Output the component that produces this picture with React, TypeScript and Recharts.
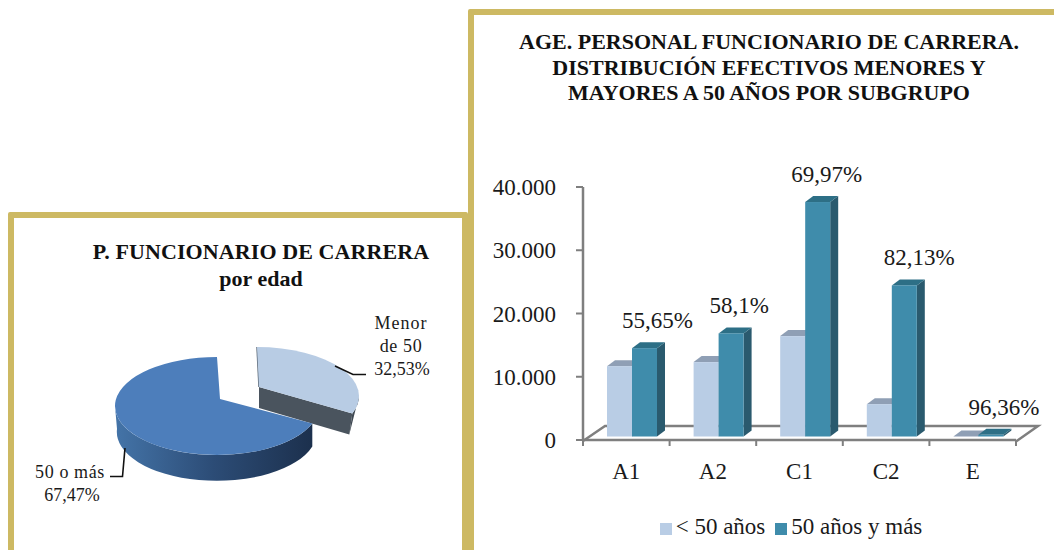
import React from 'react';
import { BarChart, Bar, XAxis, YAxis, Legend, LabelList, PieChart, Pie } from 'recharts';

const FONT = '"Liberation Serif", serif';
const GOLD = '#cdb963';

// pie data
const AGE_GROUPS = ['Menor de 50', '50 o más'];
const AGE_SHARES = [32.53, 67.47];
const AGE_COLORS = ['#b8cce4', '#4d7ebb'];

// bar data
const SUBGROUPS = ['A1', 'A2', 'C1', 'C2', 'E'];
const UNDER_50 = [11120, 11760, 15870, 5110, 10];
const OVER_50 = [13970, 16300, 37070, 23890, 260];
const OVER_50_PCT = ['55,65%', '58,1%', '69,97%', '82,13%', '96,36%'];
const Y_TICKS = [0, 10000, 20000, 30000, 40000];

const pieData = AGE_GROUPS.map((name, i) => ({ name, value: AGE_SHARES[i], fill: AGE_COLORS[i] }));
const barData = SUBGROUPS.map((name, i) => ({ name, under: UNDER_50[i], over: OVER_50[i], pct: OVER_50_PCT[i] }));

// fake 3D settings
const PIE_SQUASH = 0.48;
const PIE_DEPTH = 23;
const BAR_DEPTH_X = 8;
const BAR_DEPTH_Y = 6;

const Pie3DSlice = (props: any) => {
  const { cx, cy, outerRadius, startAngle, endAngle, fill, index } = props;
  const rx = outerRadius;
  const ry = outerRadius * PIE_SQUASH;
  // the small slice is pulled out towards the upper right
  const ax = index === 0 ? cx + 39 : cx;
  const ay = index === 0 ? cy - 12 : cy;
  const ex = index === 0 ? ax - 2 : ax - 3;
  const ey = index === 0 ? ay + 9 : ay + 7;
  const warp = (a: number) => a + 7 * Math.cos((a * Math.PI) / 180);
  const pt = (a: number) => {
    const r = (warp(a) * Math.PI) / 180;
    return [ex + rx * Math.cos(r), ey - ry * Math.sin(r)];
  };
  const [sx, sy] = pt(startAngle);
  const [tx, ty] = pt(endAngle);
  const large = Math.abs(endAngle - startAngle) > 180 ? 1 : 0;
  const top = `M${ax},${ay} L${sx},${sy} A${rx},${ry} 0 ${large} 1 ${tx},${ty} Z`;

  if (index === 0) {
    const [wx, wy] = [ex + rx, ey];
    return (
      <g>
        <path d={`M${ax},${ay} L${tx},${ty} L${tx - 3},${ty + PIE_DEPTH - 2} L${ax},${ay + PIE_DEPTH - 2} Z`} fill="#4a545e" />
        <path d={`M${wx},${wy} A${rx},${ry} 0 0 1 ${tx},${ty} L${tx - 3},${ty + PIE_DEPTH - 2} Z`} fill="#3f4953" />
        <path d={`M${ax},${ay} L${sx},${sy}`} stroke="#5d6a78" strokeWidth={1.5} />
        <path d={top} fill={fill} />
      </g>
    );
  }
  const lx = ex - rx;
  return (
    <g>
      <defs>
        <linearGradient id="pieWall" x1="0" x2="1" y1="0" y2="0">
          <stop offset="0%" stopColor="#4474a8" />
          <stop offset="50%" stopColor="#2c4c76" />
          <stop offset="100%" stopColor="#1c304d" />
        </linearGradient>
      </defs>
      <path
        d={`M${sx},${sy} A${rx},${ry} 0 0 1 ${lx},${ey} L${lx + 2},${ey + PIE_DEPTH} A${rx - 2},${ry} 0 0 0 ${sx},${sy + PIE_DEPTH} Z`}
        fill="url(#pieWall)"
      />
      <path d={top} fill={fill} />
    </g>
  );
};

const PieLabel = (props: any) => {
  const common = { fontFamily: FONT, fontSize: 18, fill: '#1a1a1a', textAnchor: 'middle' as const };
  const pct = `${AGE_SHARES[props.index].toFixed(2).replace('.', ',')}%`;
  if (props.index === 0) {
    return (
      <g>
        <text x={401} y={329} letterSpacing={1} {...common}>Menor</text>
        <text x={401} y={352} letterSpacing={0.6} {...common}>de 50</text>
        <text x={402} y={375} {...common}>{pct}</text>
        <path d="M335,366 L353,374.5 L366,374.5" fill="none" stroke="#111" strokeWidth={1.6} />
      </g>
    );
  }
  return (
    <g>
      <text x={70} y={478} letterSpacing={0.6} {...common}>50 o más</text>
      <text x={72} y={501} {...common}>{pct}</text>
      <path d="M125,448 L122.5,476.5 L110,476.5" fill="none" stroke="#111" strokeWidth={1.6} />
    </g>
  );
};

const Bar3D = (props: any) => {
  const { x, y, width, height, fill, topFill, sideFill } = props;
  // bars stand on the floor, a bit behind the axis line
  const bx = x + 6;
  const by = y - 3.5;
  const h = Math.max(height, 0);
  return (
    <g>
      <path d={`M${bx + width},${by} l${BAR_DEPTH_X},${-BAR_DEPTH_Y} v${h} l${-BAR_DEPTH_X},${BAR_DEPTH_Y} Z`} fill={sideFill} />
      <path d={`M${bx},${by} l${BAR_DEPTH_X},${-BAR_DEPTH_Y} h${width} l${-BAR_DEPTH_X},${BAR_DEPTH_Y} Z`} fill={topFill} />
      <rect x={bx} y={by} width={width} height={h} fill={fill} />
    </g>
  );
};

const LABEL_DX = [13, 8, 9, 15, 13];

const PctLabel = (props: any) => {
  const { x, y, width, index, value } = props;
  return (
    <text
      x={x + 6 + width / 2 + LABEL_DX[index]}
      y={y - 3.5 - 20}
      textAnchor="middle"
      fontFamily={FONT}
      fontSize={23}
      fill="#1a1a1a"
    >
      {value}
    </text>
  );
};

const CategoryTick = (props: any) => {
  const { x, y, payload, index } = props;
  const half = 43.3;
  return (
    <g>
      <line x1={x - half} x2={x - half} y1={y - 8} y2={y - 2} stroke="#7f7f7f" strokeWidth={2} />
      {index === SUBGROUPS.length - 1 && (
        <line x1={x + half} x2={x + half} y1={y - 8} y2={y - 2} stroke="#7f7f7f" strokeWidth={2} />
      )}
      <text x={x} y={y + 31} textAnchor="middle" fontFamily={FONT} fontSize={23} fill="#1a1a1a">
        {payload.value}
      </text>
    </g>
  );
};

const Frame = ({ style }: { style: React.CSSProperties }) => (
  <div style={{ position: 'absolute', boxSizing: 'border-box', borderStyle: 'solid', borderColor: GOLD, borderWidth: 6, borderRadius: 2, ...style }} />
);

const Title = ({ lines, center, top, step, spacing }: any) => (
  <div
    style={{
      position: 'absolute',
      left: center - 300,
      width: 600,
      top,
      textAlign: 'center',
      fontFamily: FONT,
      fontWeight: 700,
      fontSize: 22,
      lineHeight: `${step}px`,
      letterSpacing: spacing,
      color: '#111',
    }}
  >
    {lines.map((l: string) => (
      <div key={l}>{l}</div>
    ))}
  </div>
);

export default function App() {
  return (
    <div style={{ position: 'absolute', left: 0, top: 0, width: 1054, height: 550, overflow: 'hidden', background: '#fff' }}>
      <Frame style={{ left: 8, top: 212, width: 460, height: 360 }} />
      <Frame style={{ left: 468, top: 9, width: 620, height: 560 }} />

      <Title lines={['P. FUNCIONARIO DE CARRERA']} center={261} top={239} step={26} spacing={0.1} />
      <Title lines={['por edad']} center={261} top={266} step={26} spacing={0} />
      <Title
        lines={['AGE. PERSONAL FUNCIONARIO DE CARRERA.', 'DISTRIBUCIÓN EFECTIVOS MENORES Y', 'MAYORES A 50 AÑOS POR SUBGRUPO']}
        center={769}
        top={29}
        step={25.5}
        spacing={0}
      />

      <div style={{ position: 'absolute', left: 0, top: 0 }}>
        <PieChart width={468} height={550} margin={{ top: 0, right: 0, bottom: 0, left: 0 }}>
          <Pie
            data={pieData}
            dataKey="value"
            nameKey="name"
            cx={220}
            cy={399}
            outerRadius={102}
            startAngle={90}
            endAngle={-270}
            stroke="none"
            shape={Pie3DSlice}
            label={PieLabel}
            labelLine={false}
            isAnimationActive={false}
          />
        </PieChart>
      </div>

      <div style={{ position: 'absolute', left: 474, top: 0 }}>
        <BarChart
          width={580}
          height={550}
          data={barData}
          barSize={25}
          barGap={0}
          margin={{ top: 187, right: 38, bottom: 44, left: 17 }}
        >
          {/* floor of the 3D box */}
          <path d="M109,441 L131,426 H564 L542,441.5" fill="none" stroke="#7f7f7f" strokeWidth={2.5} />
          <XAxis
            dataKey="name"
            height={40}
            interval={0}
            tick={<CategoryTick />}
            tickLine={false}
            axisLine={{ stroke: '#7f7f7f', strokeWidth: 2.5 }}
          />
          <YAxis
            width={92}
            domain={[0, 40000]}
            ticks={Y_TICKS}
            tickFormatter={(v: number) => v.toLocaleString('de-DE')}
            tick={{ fontFamily: FONT, fontSize: 23, fill: '#1a1a1a' }}
            tickSize={7}
            tickMargin={20}
            tickLine={{ stroke: '#7f7f7f', strokeWidth: 2 }}
            axisLine={{ stroke: '#7f7f7f', strokeWidth: 2.5 }}
          />
          <Legend
            iconType="square"
            iconSize={12}
            itemSorter={null}
            wrapperStyle={{ fontFamily: FONT, fontSize: 23, color: '#1a1a1a', left: 172, width: 300, bottom: 10 }}
            formatter={(value: string) => <span style={{ color: '#1a1a1a' }}>{value}</span>}
          />
          <Bar
            dataKey="under"
            name="< 50 años"
            fill="#b9cde5"
            shape={<Bar3D topFill="#8f9fb5" sideFill="#8f9fb5" />}
            isAnimationActive={false}
          />
          <Bar
            dataKey="over"
            name="50 años y más"
            fill="#3f8cab"
            shape={<Bar3D topFill="#2d6f86" sideFill="#2a5a6e" />}
            isAnimationActive={false}
          >
            <LabelList dataKey="pct" content={<PctLabel />} />
          </Bar>
        </BarChart>
      </div>
    </div>
  );
}
